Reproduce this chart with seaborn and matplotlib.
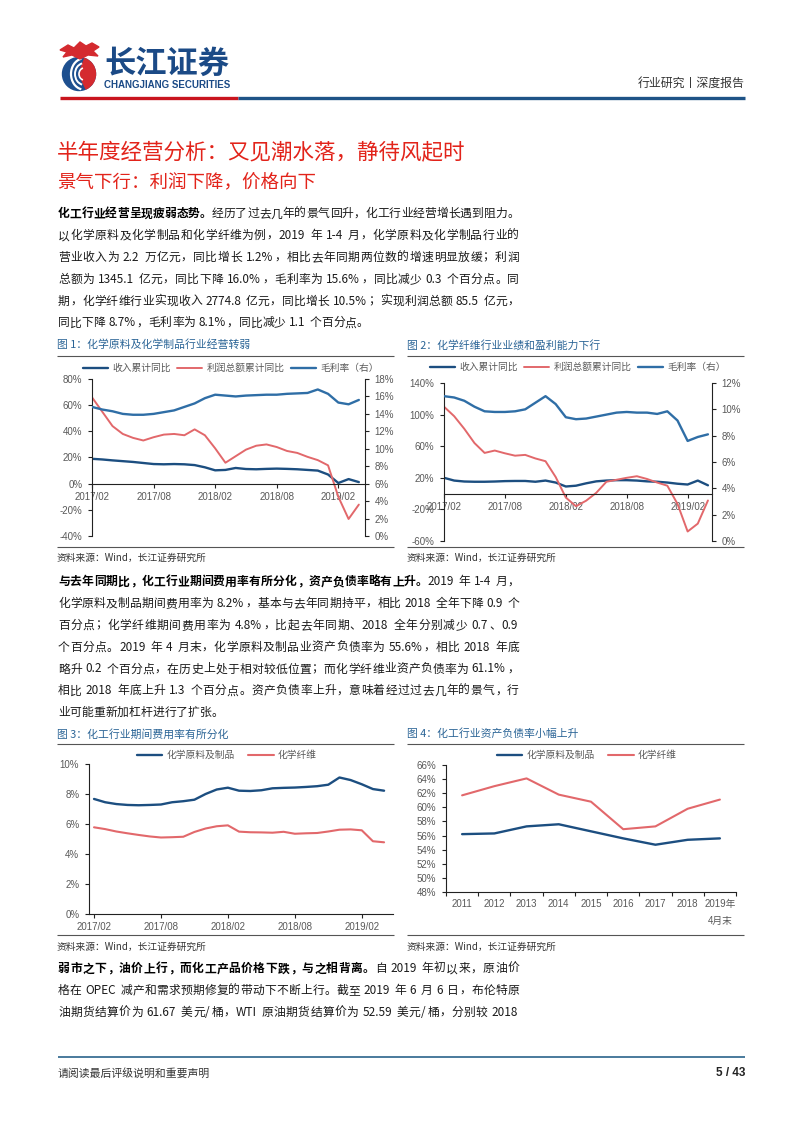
import re
import numpy as np
import pandas as pd
import matplotlib
matplotlib.use('Agg')
import matplotlib.pyplot as plt
import seaborn as sns
from matplotlib.lines import Line2D
from matplotlib.patches import Circle, Wedge, Polygon, Arc

# ---------------- data ----------------
months = list(pd.period_range('2017-02', '2019-04', freq='M').strftime('%Y/%m'))
month_ticks = ['2017/02', '2017/08', '2018/02', '2018/08', '2019/02']

# Fig 1 : chemical raw materials & products
rev1 = [19.0, 18.5, 17.8, 17.2, 16.6, 15.8, 15.0, 14.8, 15.0, 14.8, 14.2, 12.5, 10.2, 10.5,
        12.0, 11.2, 11.0, 11.3, 11.5, 11.3, 11.0, 10.5, 10.0, 7.0, 0.5, 3.5, 1.2]
profit1 = [66, 55, 44, 38, 35, 33, 35.5, 37.5, 38, 37, 41.5, 37, 27, 16, 21, 26, 29, 30, 28,
           25, 23.5, 20.5, 18, 14, -10, -27, -16]
margin1 = [14.8, 14.5, 14.3, 14.0, 13.9, 13.9, 14.0, 14.2, 14.4, 14.8, 15.2, 15.8, 16.2, 16.1,
           16.0, 16.1, 16.15, 16.2, 16.2, 16.3, 16.35, 16.4, 16.8, 16.3, 15.3, 15.1, 15.6]

# Fig 2 : chemical fibre
rev2 = [20, 16.5, 15.3, 15, 15, 15.3, 15.8, 16, 16, 15, 16.5, 14, 9, 10, 13, 15.5, 16.5, 17,
        17, 16.5, 15.5, 15, 14, 12.5, 11.5, 16.5, 10.5]
profit2 = [110, 98, 82, 64, 51.5, 54.5, 51, 48, 49, 44.5, 41, 21, -5, -16, -9, 1, 15, 17.5,
           20, 22, 18.5, 14, 10, -13, -48, -38, -8.7]
margin2 = [11.0, 10.9, 10.65, 10.2, 9.85, 9.8, 9.8, 9.85, 10.0, 10.5, 11.0, 10.4, 9.4, 9.25,
           9.3, 9.45, 9.6, 9.75, 9.8, 9.75, 9.75, 9.65, 9.85, 9.15, 7.6, 7.9, 8.1]

# Fig 3 : period expense ratio
exp_chem = [7.67, 7.45, 7.33, 7.27, 7.25, 7.27, 7.3, 7.45, 7.52, 7.62, 8.0, 8.3, 8.42, 8.22,
            8.2, 8.25, 8.38, 8.41, 8.43, 8.47, 8.52, 8.62, 9.1, 8.93, 8.65, 8.33, 8.22]
exp_fibre = [5.78, 5.66, 5.5, 5.38, 5.27, 5.17, 5.1, 5.12, 5.15, 5.47, 5.7, 5.85, 5.91, 5.49,
             5.45, 5.44, 5.42, 5.48, 5.35, 5.38, 5.4, 5.5, 5.62, 5.64, 5.58, 4.85, 4.78]

# Fig 4 : asset-liability ratio
years4 = ['2011', '2012', '2013', '2014', '2015', '2016', '2017', '2018', '2019年\n4月末']
debt_chem = [56.2, 56.3, 57.3, 57.6, 56.6, 55.6, 54.7, 55.4, 55.6]
debt_fibre = [61.7, 63.0, 64.1, 61.8, 60.8, 56.9, 57.3, 59.8, 61.1]

# ---------------- style ----------------
sns.set_theme(style='white')
plt.rcParams['font.family'] = ['Noto Sans CJK SC', 'DejaVu Sans']
plt.rcParams['axes.unicode_minus'] = False

C_DARK = '#1c4e80'
C_MID = '#2f6ea6'
C_RED = '#e2686b'
C_TITLE = '#2a6496'
C_PAGE_RED = '#e2231a'
TXT = '#1a1a1a'
GRAY = '#595959'
LAT = ['Liberation Sans', 'Noto Sans CJK SC']

W, H = 802, 1133
fig = plt.figure(figsize=(W / 100, H / 100), dpi=100)
fig.patch.set_facecolor('white')


def FX(x):
    return x / W


def FY(y):
    return 1 - y / H


def rect(l, t, r, b):
    return [l / W, 1 - b / H, (r - l) / W, (b - t) / H]


def hline(x0, x1, y, color, lw):
    fig.add_artist(Line2D([FX(x0), FX(x1)], [FY(y), FY(y)], transform=fig.transFigure,
                          color=color, lw=lw, solid_capstyle='butt'))


# ---------------- header ----------------
lax = fig.add_axes(rect(56, 40, 104, 96))
lax.set_xlim(56, 104)
lax.set_ylim(-96, -40)
lax.axis('off')
lax.add_patch(Circle((79, -74), 16.5, color='#1d4f8f'))
lax.add_patch(Wedge((79, -74), 16.5, -65, 70, color='#d42a2f'))
for r, w in [(13, 1.6), (9, 1.4), (5, 1.2)]:
    lax.add_patch(Arc((84, -74), 2 * r, 2.4 * r, theta1=100, theta2=260, color='white', lw=w))
lax.add_patch(Polygon([(60, -50), (68, -45), (74, -48), (80, -42), (86, -46), (92, -43),
                       (99, -47), (93, -51), (98, -56), (88, -55), (80, -59), (72, -55),
                       (63, -57), (67, -52)], closed=True, color='#d42a2f'))

fig.text(FX(104), FY(63.5), '长江证券', fontsize=22.5, fontweight='bold', color='#1b4a86',
         va='center', ha='left')
fig.text(FX(104), FY(85), 'CHANGJIANG SECURITIES', fontsize=7.0, fontweight='bold',
         color='#1b4a86', va='center', ha='left', fontfamily=['Liberation Sans'])
fig.text(FX(745), FY(83), '行业研究丨深度报告', fontsize=8.6, color='#333333', va='center',
         ha='right')
hline(60, 238, 97.5, '#c9151e', 2.4)
hline(238, 745, 97.5, '#1e5387', 2.4)

# ---------------- titles ----------------
fig.text(FX(57), FY(152), '半年度经营分析：又见潮水落，静待风起时', fontsize=15.5,
         color=C_PAGE_RED, va='center', ha='left')
fig.text(FX(57), FY(183), '景气下行：利润下降，价格向下', fontsize=13.3,
         color=C_PAGE_RED, va='center', ha='left')

# ---------------- justified paragraphs ----------------
renderer = fig.canvas.get_renderer()
CJK_CLS = '\u2e80-\u9fff\u3000-\u303f\uff00-\uffef'
TOK = re.compile('[' + CJK_CLS + ']|\\s+|[^\\s' + CJK_CLS + ']+')
CJK_ONE = re.compile('[' + CJK_CLS + ']')
PX0, PX1 = 58, 519
PSIZE = 8.5
EM = PSIZE * 100 / 72


def par_line(yc, segs, justify=True):
    items = []
    for txt, bold in segs:
        for m in TOK.finditer(txt):
            s = m.group()
            if s.isspace():
                items.append(('sp', s, bold, 0.25 * EM * len(s)))
            elif CJK_ONE.fullmatch(s):
                items.append(('cjk', s, bold, EM))
            else:
                t = fig.text(0, 0, s, fontsize=PSIZE, fontweight='bold' if bold else 'normal')
                w = t.get_window_extent(renderer).width
                t.remove()
                items.append(('lat', s, bold, w + 0.1 * EM))
    natural = sum(i[3] for i in items)
    extra = (PX1 - PX0 - natural) / (len(items) - 1) if justify and len(items) > 1 else 0
    x = PX0
    yb = yc + 4.3
    for kind, s, bold, w in items:
        if kind != 'sp':
            fig.text(FX(x), FY(yb), s, fontsize=PSIZE, va='baseline', ha='left',
                     fontweight='bold' if bold else 'normal',
                     color='#000000' if bold else TXT)
        x += w + extra


def paragraph(y0, lines, step=21.8, justify_last=False):
    for i, segs in enumerate(lines):
        par_line(y0 + i * step, segs, justify=(i < len(lines) - 1) or justify_last)


paragraph(213, [
    [('化工行业经营呈现疲弱态势。', True), ('经历了过去几年的景气回升，化工行业经营增长遇到阻力。', False)],
    [('以化学原料及化学制品和化学纤维为例，2019 年 1-4 月，化学原料及化学制品行业的', False)],
    [('营业收入为 2.2 万亿元，同比增长 1.2%，相比去年同期两位数的增速明显放缓；利润', False)],
    [('总额为 1345.1 亿元，同比下降 16.0%，毛利率为 15.6%，同比减少 0.3 个百分点。同', False)],
    [('期，化学纤维行业实现收入 2774.8 亿元，同比增长 10.5%；实现利润总额 85.5 亿元，', False)],
    [('同比下降 8.7%，毛利率为 8.1%，同比减少 1.1 个百分点。', False)],
])
paragraph(581, [
    [('与去年同期比，化工行业期间费用率有所分化，资产负债率略有上升。', True), ('2019 年 1-4 月，', False)],
    [('化学原料及制品期间费用率为 8.2%，基本与去年同期持平，相比 2018 全年下降 0.9 个', False)],
    [('百分点；化学纤维期间费用率为 4.8%，比起去年同期、2018 全年分别减少 0.7、0.9', False)],
    [('个百分点。2019 年 4 月末，化学原料及制品业资产负债率为 55.6%，相比 2018 年底', False)],
    [('略升 0.2 个百分点，在历史上处于相对较低位置；而化学纤维业资产负债率为 61.1%，', False)],
    [('相比 2018 年底上升 1.3 个百分点。资产负债率上升，意味着经过过去几年的景气，行', False)],
    [('业可能重新加杠杆进行了扩张。', False)],
])
paragraph(968, [
    [('弱市之下，油价上行，而化工产品价格下跌，与之相背离。', True), ('自 2019 年初以来，原油价', False)],
    [('格在 OPEC 减产和需求预期修复的带动下不断上行。截至 2019 年 6 月 6 日，布伦特原', False)],
    [('油期货结算价为 61.67 美元/桶，WTI 原油期货结算价为 52.59 美元/桶，分别较 2018', False)],
], justify_last=True)

# ---------------- footer ----------------
hline(58, 745, 1057, '#3a6f94', 1.3)
fig.text(FX(58), FY(1073), '请阅读最后评级说明和重要声明', fontsize=7.8, color='#333333',
         va='center', ha='left')
fig.text(FX(745), FY(1073), '5 / 43', fontsize=8.5, fontweight='bold', color='#222222',
         va='center', ha='right', fontfamily=['Liberation Sans'])


# ---------------- chart frames ----------------
def frame(x0, x1, ytitle, yrule, ybot, ysrc, title):
    fig.text(FX(x0), FY(ytitle), title, fontsize=7.8, color=C_TITLE, va='center', ha='left',
             fontweight='medium')
    hline(x0, x1, yrule, '#555555', 0.8)
    hline(x0, x1, ybot, '#555555', 0.8)
    fig.text(FX(x0), FY(ysrc), '资料来源：Wind，长江证券研究所', fontsize=7, color='#333333',
             va='center', ha='left')


frame(57, 394, 345, 356, 547, 558, '图 1：化学原料及化学制品行业经营转弱')
frame(407, 744, 345, 356, 547, 558, '图 2：化学纤维行业业绩和盈利能力下行')
frame(57, 394, 734, 744, 935, 947, '图 3：化工行业期间费用率有所分化')
frame(407, 744, 734, 744, 935, 947, '图 4：化工行业资产负债率小幅上升')

TICK_KW = dict(fontsize=7, color=GRAY, fontfamily=LAT)
xi = np.arange(len(months))
tick_pos = [months.index(m) for m in month_ticks]


def pct(vals):
    return [f'{v:g}%' for v in vals]


def base_style(ax):
    ax.set_xlabel('')
    ax.set_ylabel('')
    for s in ax.spines.values():
        s.set_color('#222222')
        s.set_linewidth(0.8)
    ax.tick_params(axis='both', direction='out', length=3, width=0.8, color='#222222', pad=3)
    ax.set_facecolor('none')


def legend(axes, cx, cy, colsp):
    handles, labels = [], []
    for a in axes:
        h, l = a.get_legend_handles_labels()
        handles += h
        labels += l
        if a.get_legend() is not None:
            a.get_legend().remove()
    fig.legend(handles, labels, loc='center', bbox_to_anchor=(FX(cx), FY(cy)),
               ncol=len(handles), frameon=False, fontsize=7, handlelength=2.6,
               handletextpad=0.45, columnspacing=colsp, labelcolor=GRAY, borderpad=0,
               borderaxespad=0)


def dual_chart(r, rev, prof, marg, ylim, yticks, y2lim, y2ticks, xmax, lcx, lcy):
    ax = fig.add_axes(r)
    sns.lineplot(x=xi, y=rev, ax=ax, color=C_DARK, lw=1.7, label='收入累计同比')
    sns.lineplot(x=xi, y=prof, ax=ax, color=C_RED, lw=1.4, label='利润总额累计同比')
    ax2 = ax.twinx()
    sns.lineplot(x=xi, y=marg, ax=ax2, color=C_MID, lw=1.7, label='毛利率（右）')
    base_style(ax)
    base_style(ax2)
    ax.set_xlim(0, xmax)
    ax.set_ylim(*ylim)
    ax.set_yticks(yticks, labels=pct(yticks), **TICK_KW)
    ax2.set_ylim(*y2lim)
    ax2.set_yticks(y2ticks, labels=pct(y2ticks), **TICK_KW)
    ax.spines['bottom'].set_position(('data', 0))
    ax.spines['top'].set_visible(False)
    ax.spines['right'].set_visible(False)
    for s in ['top', 'bottom', 'left']:
        ax2.spines[s].set_visible(False)
    ax.set_xticks(tick_pos, labels=month_ticks, **TICK_KW)
    ax.tick_params(axis='x', bottom=True, top=False)
    ax.tick_params(axis='y', left=True, right=False)
    ax2.tick_params(axis='y', right=True, left=False, pad=4)
    ax.tick_params(axis='y', pad=4)
    ax2.tick_params(axis='x', bottom=False, labelbottom=False)
    legend([ax, ax2], lcx, lcy, 0.6)
    return ax, ax2


dual_chart(rect(92, 379, 365, 536), rev1, profit1, margin1, (-40, 80),
           [-40, -20, 0, 20, 40, 60, 80], (0, 18), list(range(0, 19, 2)), 26.6, 231, 368)
dual_chart(rect(444, 383, 712, 541), rev2, profit2, margin2, (-60, 140),
           [-60, -20, 20, 60, 100, 140], (0, 12), list(range(0, 13, 2)), 26.4, 578, 367)

# Fig 3
ax3 = fig.add_axes(rect(89, 764, 393, 914))
sns.lineplot(x=xi, y=exp_chem, ax=ax3, color=C_DARK, lw=1.7, label='化学原料及制品')
sns.lineplot(x=xi, y=exp_fibre, ax=ax3, color=C_RED, lw=1.5, label='化学纤维')
base_style(ax3)
ax3.spines['top'].set_visible(False)
ax3.spines['right'].set_visible(False)
ax3.set_xlim(-0.45, 26.8)
ax3.set_ylim(0, 10)
ax3.set_yticks([0, 2, 4, 6, 8, 10], labels=pct([0, 2, 4, 6, 8, 10]), **TICK_KW)
ax3.set_xticks(tick_pos, labels=month_ticks, **TICK_KW)
ax3.tick_params(axis='x', bottom=True, pad=3)
ax3.tick_params(axis='y', left=True, pad=4)
legend([ax3], 227, 755, 1.4)

# Fig 4
ax4 = fig.add_axes(rect(446, 765, 736, 892))
x4 = np.arange(len(years4))
sns.lineplot(x=x4, y=debt_chem, ax=ax4, color=C_DARK, lw=1.7, label='化学原料及制品')
sns.lineplot(x=x4, y=debt_fibre, ax=ax4, color=C_RED, lw=1.5, label='化学纤维')
base_style(ax4)
ax4.spines['top'].set_visible(False)
ax4.spines['right'].set_visible(False)
ax4.set_xlim(-0.5, len(years4) - 0.5)
ax4.set_ylim(48, 66)
yt4 = list(range(48, 67, 2))
ax4.set_yticks(yt4, labels=pct(yt4), **TICK_KW)
ax4.set_xticks(np.arange(-0.5, len(years4), 1.0), labels=[''] * (len(years4) + 1))
ax4.set_xticks(x4, labels=years4, minor=True, **TICK_KW)
for lab in ax4.get_xticklabels(minor=True):
    lab.set_linespacing(1.9)
ax4.tick_params(axis='x', which='major', bottom=True, length=3)
ax4.tick_params(axis='x', which='minor', bottom=True, length=0, pad=5)
ax4.tick_params(axis='y', left=True, pad=4)
legend([ax4], 587, 755, 1.4)

fig.savefig('out.png', dpi=100, facecolor='white')
